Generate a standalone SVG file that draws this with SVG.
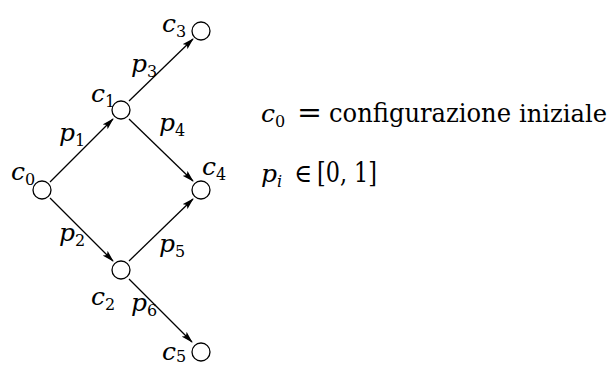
<svg xmlns="http://www.w3.org/2000/svg" width="613" height="365" viewBox="0 0 613 365">
<style>
.node{fill:#fff;stroke:#000;stroke-width:1.3}
.edge{stroke:#000;stroke-width:1.3;fill:none;marker-end:url(#arr)}
</style>
<defs>
<marker id="arr" markerUnits="userSpaceOnUse" markerWidth="12" markerHeight="8" viewBox="0 0 12 8" refX="11" refY="4" orient="auto">
<path d="M0,0.6 L12,4 L0,7.4 L2.5,4 Z" fill="#000"/>
</marker>
</defs>
<rect width="613" height="365" fill="#fff"/>
<g id="connectors">
<line class="edge" x1="50" y1="182" x2="113" y2="119"/>
<line class="edge" x1="129" y1="101" x2="193" y2="39"/>
<line class="edge" x1="129" y1="119" x2="193" y2="181"/>
<line class="edge" x1="50" y1="198" x2="113" y2="261"/>
<line class="edge" x1="129" y1="261" x2="193" y2="199"/>
<line class="edge" x1="129" y1="279" x2="192" y2="342"/>
</g>
<g font-family="'DejaVu Serif', 'Liberation Serif', serif" font-size="25" font-style="italic" fill="#000">
<g id="c0"><circle class="node" cx="42" cy="190" r="9"/><text x="11" y="180">c<tspan font-style="normal" font-size="16" dy="5">0</tspan></text></g>
<g id="c1"><circle class="node" cx="121" cy="110" r="9"/><text x="91" y="102">c<tspan font-style="normal" font-size="16" dy="5">1</tspan></text></g>
<g id="c2"><circle class="node" cx="121" cy="270" r="9"/><text x="91" y="305">c<tspan font-style="normal" font-size="16" dy="5">2</tspan></text></g>
<g id="c3"><circle class="node" cx="201" cy="31" r="9"/><text x="162" y="32">c<tspan font-style="normal" font-size="16" dy="5">3</tspan></text></g>
<g id="c4"><circle class="node" cx="201" cy="190" r="9"/><text x="202" y="175">c<tspan font-style="normal" font-size="16" dy="5">4</tspan></text></g>
<g id="c5"><circle class="node" cx="201" cy="352" r="9"/><text x="162" y="360">c<tspan font-style="normal" font-size="16" dy="2">5</tspan></text></g>
<g id="labels">
<text x="59" y="141">p<tspan font-style="normal" font-size="16" dy="5">1</tspan></text>
<text x="59" y="241">p<tspan font-style="normal" font-size="16" dy="5">2</tspan></text>
<text x="131" y="72">p<tspan font-style="normal" font-size="16" dy="5">3</tspan></text>
<text x="159" y="131">p<tspan font-style="normal" font-size="16" dy="5">4</tspan></text>
<text x="159" y="252">p<tspan font-style="normal" font-size="16" dy="5">5</tspan></text>
<text x="131" y="311">p<tspan font-style="normal" font-size="16" dy="5">6</tspan></text>
</g>
<g id="legend">
<text x="261" y="122">c<tspan font-style="normal" font-size="16" dy="5">0</tspan></text>
<text x="297" y="122" font-style="normal" font-size="27" textLength="25" lengthAdjust="spacingAndGlyphs">=</text>
<text x="329" y="122" font-style="normal" font-size="26" textLength="182" lengthAdjust="spacingAndGlyphs">configurazione</text>
<text x="519" y="122" font-style="normal" font-size="25" textLength="88" lengthAdjust="spacingAndGlyphs">iniziale</text>
<text x="261" y="182">p<tspan font-size="16" dy="5">i</tspan></text>
<text x="294" y="182" font-style="normal" font-size="26" textLength="18" lengthAdjust="spacingAndGlyphs">∈</text>
<text x="317" y="182" font-style="normal" font-size="27" textLength="60" lengthAdjust="spacingAndGlyphs">[0, 1]</text>
</g>
</g>
</svg>
